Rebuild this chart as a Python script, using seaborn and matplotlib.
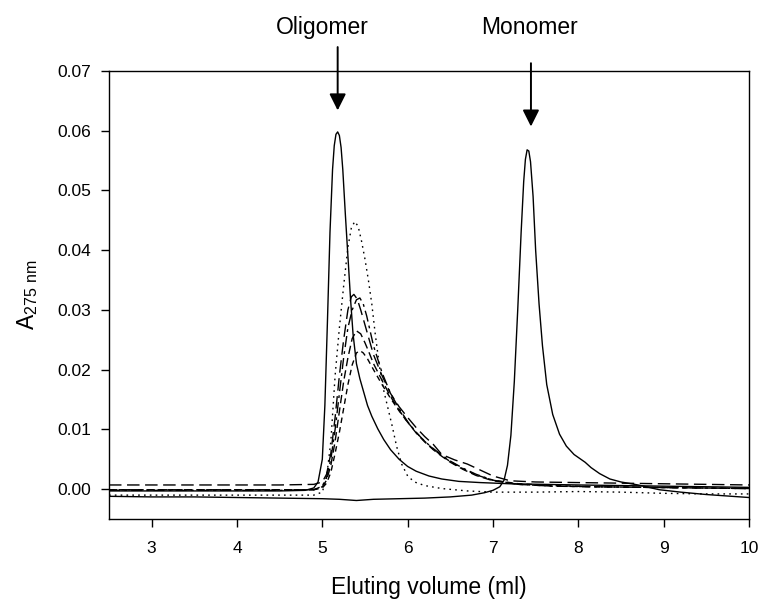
import matplotlib
matplotlib.use("Agg")
import matplotlib.pyplot as plt
import seaborn as sns
import pandas as pd

# elution profiles (volume in ml, absorbance at 275 nm)
olig_x = [2.5, 3.0, 3.5, 4.0, 4.5, 4.8, 4.9, 4.95, 5.0, 5.03, 5.06, 5.09, 5.12, 5.14, 5.16,
          5.18, 5.20, 5.22, 5.24, 5.27, 5.30, 5.33, 5.36, 5.40, 5.44, 5.48, 5.53, 5.58, 5.65,
          5.72, 5.80, 5.90, 6.0, 6.1, 6.25, 6.4, 6.6, 6.85, 7.2, 7.6, 8.0, 8.5, 9.0, 9.5, 10.0]
olig_y = [-0.0003, -0.0003, -0.0003, -0.0003, -0.0003, -0.0002, 0.0002, 0.0012, 0.005, 0.014,
          0.028, 0.043, 0.0535, 0.0575, 0.0594, 0.0598, 0.0592, 0.0572, 0.0535, 0.046, 0.039,
          0.032, 0.026, 0.021, 0.0185, 0.0165, 0.0140, 0.0122, 0.0101, 0.0083, 0.0066, 0.0050,
          0.0038, 0.0030, 0.0022, 0.0017, 0.0013, 0.0011, 0.0009, 0.0008, 0.0007, 0.0006,
          0.0005, 0.0004, 0.0003]

mono_x = [2.5, 3.0, 3.5, 4.0, 4.5, 5.0, 5.2, 5.4, 5.6, 5.9, 6.2, 6.5, 6.75, 6.9, 7.0, 7.08,
          7.13, 7.17, 7.21, 7.25, 7.29, 7.33, 7.36, 7.38, 7.40, 7.42, 7.44, 7.47, 7.50, 7.54,
          7.58, 7.63, 7.70, 7.78, 7.86, 7.95, 8.02, 8.08, 8.15, 8.25, 8.37, 8.5, 8.7, 8.95,
          9.2, 9.5, 9.8, 10.0]
mono_y = [-0.0012, -0.0013, -0.0013, -0.0014, -0.0015, -0.0016, -0.0017, -0.0019, -0.0017,
          -0.0016, -0.0015, -0.0013, -0.0010, -0.0006, -0.0002, 0.0004, 0.0015, 0.004, 0.009,
          0.018, 0.030, 0.043, 0.0515, 0.0552, 0.0568, 0.0566, 0.0548, 0.049, 0.040, 0.031,
          0.024, 0.0175, 0.0125, 0.0092, 0.0072, 0.0058, 0.0051, 0.0045, 0.0036, 0.0026,
          0.0017, 0.0012, 0.0007, -0.0001, -0.0005, -0.0009, -0.0012, -0.0014]

dot_x = [2.5, 3.0, 3.5, 4.0, 4.5, 4.9, 5.0, 5.05, 5.1, 5.15, 5.2, 5.25, 5.30, 5.34, 5.38,
         5.42, 5.46, 5.50, 5.54, 5.58, 5.62, 5.67, 5.72, 5.77, 5.82, 5.87, 5.93, 6.0, 6.08,
         6.2, 6.4, 6.7, 7.0, 7.5, 8.0, 8.5, 9.0, 9.5, 10.0]
dot_y = [-0.0010, -0.0010, -0.0010, -0.0010, -0.0010, -0.0010, -0.0005, 0.002, 0.008, 0.019,
         0.027, 0.034, 0.0405, 0.0437, 0.0448, 0.0440, 0.0415, 0.0385, 0.035, 0.031, 0.026,
         0.0205, 0.0165, 0.0135, 0.0105, 0.0072, 0.0042, 0.0022, 0.0012, 0.0006, 0.0001,
         -0.0003, -0.0005, -0.0005, -0.0004, -0.0005, -0.0007, -0.0008, -0.0008]

long_x = [2.5, 3.5, 4.5, 4.9, 5.0, 5.05, 5.1, 5.15, 5.2, 5.25, 5.3, 5.34, 5.37, 5.41, 5.45,
          5.5, 5.55, 5.6, 5.7, 5.8, 5.9, 6.0, 6.1, 6.2, 6.3, 6.4, 6.55, 6.7, 6.85, 7.0, 7.2,
          7.5, 8.0, 8.5, 9.0, 9.5, 10.0]
long_y = [0.0007, 0.0007, 0.0007, 0.0008, 0.0012, 0.0025, 0.006, 0.012, 0.019, 0.025, 0.030,
          0.0322, 0.0326, 0.0318, 0.030, 0.0275, 0.025, 0.0225, 0.019, 0.0160, 0.0138, 0.0120,
          0.0103, 0.0088, 0.0075, 0.0058, 0.0049, 0.0042, 0.0032, 0.0022, 0.0014, 0.0012,
          0.0011, 0.0010, 0.0009, 0.0008, 0.0007]

dd_x = [2.5, 3.5, 4.5, 4.9, 5.0, 5.05, 5.1, 5.15, 5.2, 5.25, 5.3, 5.35, 5.4, 5.44, 5.48, 5.52,
        5.56, 5.6, 5.7, 5.8, 5.9, 6.0, 6.1, 6.2, 6.3, 6.4, 6.5, 6.65, 6.8, 7.0, 7.3, 7.7, 8.2,
        8.8, 9.4, 10.0]
dd_y = [-0.0002, -0.0002, -0.0002, -0.0001, 0.0005, 0.002, 0.005, 0.010, 0.016, 0.022, 0.027,
        0.030, 0.0317, 0.032, 0.031, 0.029, 0.0265, 0.024, 0.0195, 0.0160, 0.0135, 0.0113,
        0.0095, 0.0080, 0.0068, 0.0057, 0.0047, 0.0035, 0.0025, 0.0015, 0.0008, 0.0005,
        0.0004, 0.0003, 0.0002, 0.0001]

mid_x = [2.5, 3.5, 4.5, 4.9, 5.0, 5.05, 5.1, 5.15, 5.2, 5.25, 5.3, 5.35, 5.4, 5.45, 5.5, 5.55,
         5.6, 5.7, 5.8, 5.9, 6.0, 6.1, 6.2, 6.3, 6.4, 6.5, 6.65, 6.8, 7.0, 7.3, 7.7, 8.2, 8.8,
         9.4, 10.0]
mid_y = [-0.0001, -0.0001, -0.0001, -0.0001, 0.0004, 0.0015, 0.004, 0.008, 0.013, 0.018, 0.022,
         0.0252, 0.0265, 0.026, 0.0245, 0.0228, 0.021, 0.0182, 0.0155, 0.0132, 0.0112, 0.0094,
         0.0079, 0.0066, 0.0055, 0.0045, 0.0033, 0.0023, 0.0014, 0.0008, 0.0005, 0.0004,
         0.0003, 0.0002, 0.0001]

short_x = [2.5, 3.5, 4.5, 4.9, 5.0, 5.05, 5.1, 5.15, 5.2, 5.25, 5.3, 5.35, 5.4, 5.44, 5.48,
           5.53, 5.6, 5.7, 5.8, 5.9, 6.0, 6.1, 6.2, 6.3, 6.4, 6.5, 6.65, 6.8, 7.0, 7.3, 7.7,
           8.2, 8.8, 9.4, 10.0]
short_y = [-0.0001, -0.0001, -0.0001, -0.0001, 0.0002, 0.001, 0.0028, 0.006, 0.0095, 0.0135,
           0.0175, 0.0208, 0.0228, 0.0232, 0.0228, 0.0218, 0.020, 0.0175, 0.0152, 0.0131,
           0.0112, 0.0095, 0.0080, 0.0067, 0.0056, 0.0046, 0.0034, 0.0024, 0.0015, 0.0009,
           0.0006, 0.0004, 0.0003, 0.0002, 0.0001]

x_ticks = [3, 4, 5, 6, 7, 8, 9, 10]
y_ticks = [0.00, 0.01, 0.02, 0.03, 0.04, 0.05, 0.06, 0.07]

runs = {
    "olig": (olig_x, olig_y),
    "mono": (mono_x, mono_y),
    "dot": (dot_x, dot_y),
    "long": (long_x, long_y),
    "dashdot": (dd_x, dd_y),
    "mid": (mid_x, mid_y),
    "short": (short_x, short_y),
}
frames = []
for name, (xs, ys) in runs.items():
    frames.append(pd.DataFrame({"volume": xs, "absorbance": ys, "run": name}))
df = pd.concat(frames, ignore_index=True)

line_dashes = {
    "olig": "",
    "mono": "",
    "dot": (1.2, 3),
    "long": (9, 4),
    "dashdot": (8, 3, 2, 3),
    "mid": (6, 3),
    "short": (4, 3),
}

sns.set_theme(style="ticks")
plt.rcParams["font.family"] = ["Liberation Sans", "DejaVu Sans"]
plt.rcParams["mathtext.default"] = "regular"
plt.rcParams["text.color"] = "black"
plt.rcParams["axes.labelcolor"] = "black"

fig = plt.figure(figsize=(7.61, 6.04), dpi=100)
ax = fig.add_axes([0.1432, 0.1407, 0.8410, 0.7418])

sns.lineplot(data=df, x="volume", y="absorbance", style="run", dashes=line_dashes,
             color="black", linewidth=1.0, errorbar=None, legend=False, sort=False, ax=ax)

ax.set_xlim(2.5, 10)
ax.set_ylim(-0.005, 0.07)
ax.set_xticks(x_ticks)
ax.set_yticks(y_ticks)
ax.set_xticklabels([str(v) for v in x_ticks])
ax.set_yticklabels(["%.2f" % v for v in y_ticks])
ax.tick_params(direction="out", length=6, width=1, pad=7, labelsize=12.5,
               colors="black", labelcolor="black")
ax.tick_params(axis="x", pad=10)
for sp in ax.spines.values():
    sp.set_visible(True)
    sp.set_linewidth(1.0)
    sp.set_color("black")

ax.set_xlabel("Eluting volume (ml)", fontsize=16.5, labelpad=14, color="black")
ax.set_ylabel("A$_{275\\ nm}$", fontsize=16.5, labelpad=12, color="black")

# peak markers above the plot
ax.text(5.0, 0.0773, "Oligomer", fontsize=16.5, ha="center", va="center",
        color="black", clip_on=False)
ax.text(7.43, 0.0773, "Monomer", fontsize=16.5, ha="center", va="center",
        color="black", clip_on=False)
arrow = dict(arrowstyle="-|>", mutation_scale=25, lw=1.4, color="black",
             shrinkA=0, shrinkB=0)
ax.annotate("", xy=(5.18, 0.0634), xytext=(5.18, 0.0740), arrowprops=arrow,
            annotation_clip=False)
ax.annotate("", xy=(7.445, 0.0607), xytext=(7.445, 0.0713), arrowprops=arrow,
            annotation_clip=False)

plt.savefig("out.png", dpi=100)
